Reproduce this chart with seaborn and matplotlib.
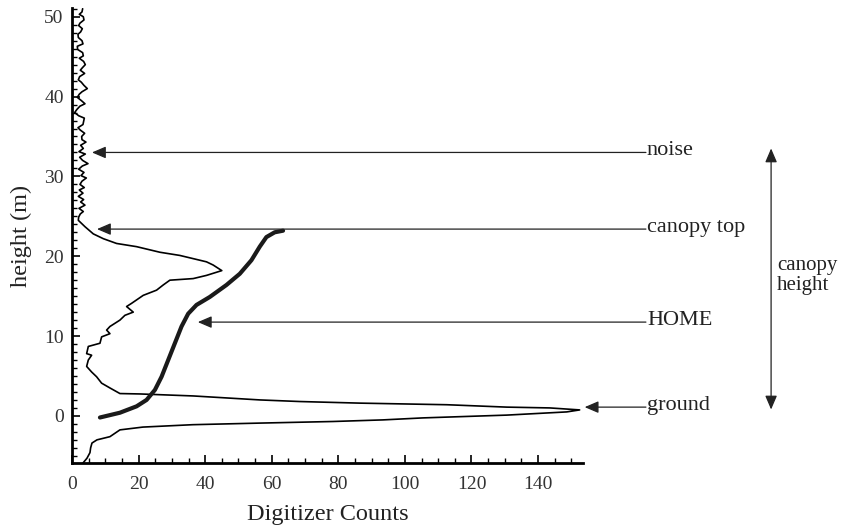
import matplotlib
matplotlib.use("Agg")
import matplotlib.pyplot as plt
import matplotlib.ticker as mtick
import pandas as pd
import seaborn as sns

# waveform, noise part above the canopy (height m, digitizer counts)
noise_height = [
    51.0, 50.6, 50.3, 50.0, 49.6, 49.2, 48.9, 48.5, 48.1, 47.8,
    47.4, 47.0, 46.6, 46.3, 45.9, 45.5, 45.1, 44.8, 44.4, 44.0,
    43.6, 43.3, 42.9, 42.5, 42.1, 41.8, 41.4, 41.0, 40.6, 40.3,
    39.9, 39.5, 39.1, 38.8, 38.4, 38.0, 37.6, 37.3, 36.9, 36.5,
    36.1, 35.8, 35.4, 35.0, 34.6, 34.3, 33.9, 33.5, 33.1, 32.8,
    32.4, 32.0, 31.6, 31.3, 30.9, 30.5, 30.1, 29.8, 29.4, 29.0,
    28.6, 28.3, 27.9, 27.5, 27.1, 26.8, 26.4, 26.0, 25.6, 25.3,
    24.9,
]
noise_counts = [
    3.2, 3.0, 2.2, 3.4, 3.6, 2.4, 2.0, 3.1, 2.6, 1.8,
    1.9, 3.0, 3.3, 1.6, 1.7, 3.2, 3.4, 2.2, 3.5, 4.0,
    3.1, 2.5, 3.8, 2.3, 1.9, 2.8, 3.6, 4.6, 3.0, 2.2,
    1.6, 2.8, 3.9, 2.4, 1.5, 0.8, 2.0, 3.7, 3.5, 3.3,
    1.8, 2.5, 3.8, 2.9, 3.0, 4.2, 2.6, 3.4, 2.1, 4.0,
    2.3, 3.2, 4.8, 3.1, 2.0, 3.6, 2.7, 4.3, 3.0, 2.4,
    3.7, 2.2, 3.3, 1.9, 3.5, 2.6, 3.9, 2.1, 3.4, 2.5,
    2.0,
]

# waveform, canopy and ground returns
return_height = [
    24.5, 23.7, 22.8, 22.2, 21.6, 21.2, 20.5, 20.1, 19.7, 19.3,
    18.9, 18.2, 17.6, 17.2, 17.0, 16.4, 15.75, 15.1, 14.1, 13.7,
    13.0, 12.6, 12.0, 11.2, 10.75, 10.3, 9.9, 9.1, 8.7, 7.8,
    7.6, 7.0, 6.2, 5.5, 4.9, 4.1, 3.5, 2.8, 2.75, 2.5,
    2.0, 1.8, 1.6, 1.4, 1.1, 1.0, 0.75,
    0.5, 0.1, -0.25, -0.5, -0.7, -0.9, -1.1, -1.4, -1.75, -2.6,
    -3.0, -3.4, -4.0, -4.6, -5.3, -5.9,
]
return_counts = [
    1.9, 3.9, 6.4, 9.4, 13.4, 19.4, 26.4, 32.4, 36.4, 40.4,
    42.4, 45.0, 40.4, 36.4, 29.4, 27.4, 25.4, 21.4, 17.9, 16.4,
    18.4, 15.9, 14.4, 11.4, 10.4, 11.4, 8.9, 8.4, 4.9, 4.4,
    5.9, 4.9, 4.4, 5.9, 7.4, 8.9, 11.4, 14.4, 20.4, 36.4,
    56.5, 68.5, 86.5, 112.6, 130.6, 143.5, 152.5,
    148.6, 130.6, 105.4, 93.4, 78.4, 56.5, 36.3, 21.3, 14.4, 11.4,
    7.5, 6.0, 5.6, 5.4, 4.5, 3.3,
]

# HOME curve
home_height = [-0.2, 0.4, 1.2, 2.0, 3.25, 4.9, 7.0, 9.1, 11.2, 12.8,
               13.9, 14.9, 16.4, 17.8, 19.5, 21.2, 22.4, 23.0, 23.2]
home_counts = [8.4, 14.4, 19.4, 22.4, 24.9, 26.9, 28.9, 30.9, 32.9, 34.9,
               37.4, 41.4, 46.4, 50.4, 53.9, 56.4, 58.4, 60.9, 63.4]

# annotation labels, their heights and arrow tips
label_names = ["noise", "canopy top", "HOME", "ground"]
label_heights = [33.0, 23.4, 11.75, 1.1]
arrow_tips = [6.0, 7.5, 37.8, 154.0]

sns.set_theme(style="ticks")
plt.rcParams["font.family"] = ["Liberation Serif", "DejaVu Serif"]
plt.rcParams["text.color"] = "#222222"

df_wave = pd.DataFrame({"counts": noise_counts + return_counts,
                        "height": noise_height + return_height})
df_home = pd.DataFrame({"counts": home_counts, "height": home_height})

fig = plt.figure(figsize=(8.42, 5.30), dpi=100)
ax = fig.add_axes([0.0855, 0.1264, 0.6069, 0.8586])

sns.lineplot(data=df_wave, x="counts", y="height", sort=False, estimator=None,
             color="black", linewidth=1.2, ax=ax)
sns.lineplot(data=df_home, x="counts", y="height", sort=False, estimator=None,
             color="#1a1a1a", linewidth=3.0, ax=ax)

ax.set_xlim(0, 153.5)
ax.set_ylim(-5.9, 51.1)
ax.xaxis.set_major_locator(mtick.MultipleLocator(20))
ax.xaxis.set_minor_locator(mtick.MultipleLocator(5))
ax.yaxis.set_major_locator(mtick.MultipleLocator(10))
ax.yaxis.set_minor_locator(mtick.MultipleLocator(1))
ax.tick_params(which="major", direction="in", length=6, width=1.2,
               labelsize=14, colors="black", labelcolor="#333333")
ax.tick_params(axis="x", which="major", pad=9)
ax.tick_params(axis="y", which="major", pad=6)
ax.tick_params(which="minor", direction="in", length=3.5, width=1.0,
               colors="black")
for side in ["top", "right"]:
    ax.spines[side].set_visible(False)
for side in ["left", "bottom"]:
    ax.spines[side].set_linewidth(2.0)
    ax.spines[side].set_color("black")

ax.set_xlabel("Digitizer Counts", fontsize=17.5, color="#222222", labelpad=8)
ax.set_ylabel("height (m)", fontsize=17.5, color="#222222", labelpad=9)

arrow_style = dict(arrowstyle="-|>,head_length=0.7,head_width=0.3",
                   color="#222222", lw=0.9, mutation_scale=12,
                   shrinkA=0, shrinkB=0)
line_end = 172.4
for name, h, tip in zip(label_names, label_heights, arrow_tips):
    ax.annotate("", xy=(tip, h), xytext=(line_end, h), arrowprops=arrow_style,
                annotation_clip=False)
    ax.text(line_end + 0.3, h + 0.2, name, fontsize=16, va="center",
            ha="left", clip_on=False)

ax.annotate("", xy=(210.0, 33.5), xytext=(210.0, 0.8), annotation_clip=False,
            arrowprops=dict(arrowstyle="<|-|>,head_length=0.7,head_width=0.3",
                            color="#222222", lw=0.9, mutation_scale=12,
                            shrinkA=0, shrinkB=0))
ax.text(211.8, 17.6, "canopy\nheight", fontsize=15, va="center", ha="left",
        linespacing=1.1, clip_on=False)

fig.savefig("out.png", dpi=100)
